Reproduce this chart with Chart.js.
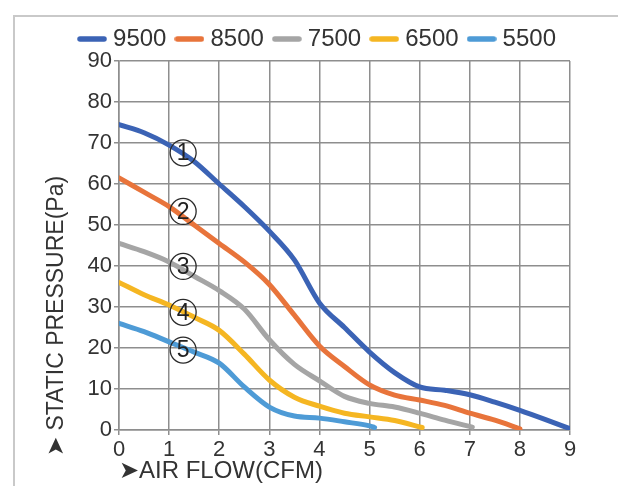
<!DOCTYPE html>
<html>
<head>
<meta charset="utf-8">
<script src="https://cdn.jsdelivr.net/npm/chart.js@4.4.1/dist/chart.umd.min.js"></script>
<style>
  html, body { margin: 0; padding: 0; background: #fff; }
  #wrap { position: relative; width: 618px; height: 486px; overflow: hidden; }
  .frame { position: absolute; left: 13px; top: 15px; width: 640px; height: 500px;
           border-left: 2px solid #c9c9c9; border-top: 2px solid #c9c9c9; }
  canvas { position: absolute; left: 0; top: 0; }
</style>
</head>
<body>
<div id="wrap">
  <div class="frame"></div>
  <canvas id="pq" width="618" height="486"></canvas>
</div>
<script>
// Fan speed curves (rpm) - air flow (CFM) vs static pressure (Pa)
const seriesNames = ['9500', '8500', '7500', '6500', '5500'];
const seriesColors = ['#3b63b5', '#e8743b', '#a5a5a5', '#f5b622', '#4e9bd6'];

const flow9500 = [0, 0.5, 1, 1.5, 2, 2.5, 3, 3.5, 4, 4.5, 5, 5.5, 6, 6.5, 7, 7.5, 8, 8.5, 9];
const pressure9500 = [74.5, 72.5, 69.5, 65.5, 60, 54.5, 48.5, 41.5, 31, 25, 19, 14, 10.5, 9.7, 8.6, 6.8, 4.8, 2.6, 0.3];

const flow8500 = [0, 0.5, 1, 1.5, 2, 2.5, 3, 3.5, 4, 4.5, 5, 5.5, 6, 6.5, 7, 7.5, 8];
const pressure8500 = [61.5, 58, 54.5, 50, 45.5, 41, 35.5, 28, 20.5, 15.5, 11, 8.5, 7.3, 6, 4.1, 2.4, 0.3];

const flow7500 = [0, 0.5, 1, 1.5, 2, 2.5, 3, 3.5, 4, 4.5, 5, 5.5, 6, 6.5, 7.05];
const pressure7500 = [45.5, 43.5, 41, 37.5, 34, 29.5, 22, 16, 12, 8.2, 6.5, 5.6, 4.1, 2.4, 0.7];

const flow6500 = [0, 0.5, 1, 1.5, 2, 2.5, 3, 3.5, 4, 4.5, 5, 5.5, 6.05];
const pressure6500 = [36, 33, 30.5, 27.5, 24.3, 18.5, 12.2, 8, 5.8, 4.1, 3.2, 2.3, 0.6];

const flow5500 = [0, 0.5, 1, 1.5, 2, 2.5, 3, 3.5, 4, 4.5, 5, 5.1];
const pressure5500 = [26, 24, 21.5, 19, 16.3, 10.5, 5.6, 3.4, 2.9, 2, 1, 0.6];

// circled curve numbers
const markerNames = ['1', '2', '3', '4', '5'];
const markerFlow = 1.28;
const markerPressure = [67.6, 53.3, 39.9, 28.7, 19.5];

const xTicks = [0, 1, 2, 3, 4, 5, 6, 7, 8, 9];
const yTicks = [0, 10, 20, 30, 40, 50, 60, 70, 80, 90];
const xTitle = '➤AIR FLOW(CFM)';
const yTitle = '➤ STATIC PRESSURE(Pa)';

const flows = [flow9500, flow8500, flow7500, flow6500, flow5500];
const pressures = [pressure9500, pressure8500, pressure7500, pressure6500, pressure5500];

const textColor = '#333';
const gridColor = '#8e8e8e';
const fontFamily = '"Liberation Sans", Arial, sans-serif';

function toPoints(xs, ys) {
  return xs.map((x, i) => ({ x: x, y: ys[i] }));
}

// short thick line used as legend symbol
function makeLegendLine(color) {
  const c = document.createElement('canvas');
  c.width = 30;
  c.height = 8;
  const g = c.getContext('2d');
  g.strokeStyle = color;
  g.lineWidth = 5.5;
  g.lineCap = 'round';
  g.beginPath();
  g.moveTo(3, 4);
  g.lineTo(27, 4);
  g.stroke();
  return c;
}

const datasets = seriesNames.map((name, i) => ({
  label: name,
  data: toPoints(flows[i], pressures[i]),
  borderColor: seriesColors[i],
  backgroundColor: seriesColors[i],
  borderWidth: 5,
  borderCapStyle: 'round',
  borderJoinStyle: 'round',
  pointRadius: 0,
  pointStyle: makeLegendLine(seriesColors[i]),
  cubicInterpolationMode: 'monotone',
  fill: false
}));

// Draw the circled numbers next to each curve, and the y axis title
const markerPlugin = {
  id: 'curveMarkers',
  afterDatasetsDraw(chart) {
    const ctx = chart.ctx;
    const xs = chart.scales.x;
    const ys = chart.scales.y;
    ctx.save();
    markerNames.forEach((n, i) => {
      const px = xs.getPixelForValue(markerFlow);
      const py = ys.getPixelForValue(markerPressure[i]);
      ctx.beginPath();
      ctx.arc(px, py, 13, 0, Math.PI * 2);
      ctx.lineWidth = 1.3;
      ctx.strokeStyle = '#2a2a2a';
      ctx.stroke();
      ctx.fillStyle = '#222';
      ctx.font = '23px ' + fontFamily;
      ctx.textAlign = 'center';
      ctx.textBaseline = 'middle';
      ctx.fillText(n, px, py + 1);
    });
    ctx.restore();
  },
  afterDraw(chart) {
    // the title starts below the axis, so it is placed by hand
    const ctx = chart.ctx;
    ctx.save();
    ctx.translate(57, chart.chartArea.bottom + 26);
    ctx.rotate(-Math.PI / 2);
    ctx.fillStyle = textColor;
    ctx.font = '23px ' + fontFamily;
    ctx.textAlign = 'left';
    ctx.textBaseline = 'middle';
    ctx.fillText(yTitle, 0, 0);
    ctx.restore();
  }
};

Chart.defaults.font.family = fontFamily;
Chart.defaults.color = textColor;

new Chart(document.getElementById('pq'), {
  type: 'line',
  data: { datasets: datasets },
  plugins: [markerPlugin],
  options: {
    responsive: false,
    devicePixelRatio: 1,
    animation: false,
    layout: { padding: { left: 14, right: 48, top: 13, bottom: 0 } },
    plugins: {
      legend: {
        position: 'top',
        align: 'end',
        labels: {
          usePointStyle: true,
          pointStyleWidth: 18,
          boxHeight: 8,
          padding: 14,
          font: { size: 24 },
          color: textColor
        }
      },
      tooltip: { enabled: false }
    },
    scales: {
      x: {
        type: 'linear',
        min: 0,
        max: 9,
        afterFit: (scale) => { scale.height = 56; },
        afterBuildTicks: (scale) => { scale.ticks = xTicks.map(v => ({ value: v })); },
        grid: { color: gridColor, lineWidth: 1.5, tickLength: 5 },
        border: { color: gridColor, width: 1.5 },
        ticks: { font: { size: 22 }, color: textColor, padding: 2 },
        title: {
          display: true,
          text: xTitle,
          align: 'start',
          font: { size: 24 },
          color: textColor,
          padding: { top: 0, bottom: 0 }
        }
      },
      y: {
        type: 'linear',
        min: 0,
        max: 90,
        afterFit: (scale) => { scale.width = 105; },
        afterBuildTicks: (scale) => { scale.ticks = yTicks.map(v => ({ value: v })); },
        grid: { color: gridColor, lineWidth: 1.5, tickLength: 5 },
        border: { color: gridColor, width: 1.5 },
        ticks: { font: { size: 22 }, color: textColor, padding: 2 },
        title: { display: false }
      }
    }
  }
});
</script>
</body>
</html>
